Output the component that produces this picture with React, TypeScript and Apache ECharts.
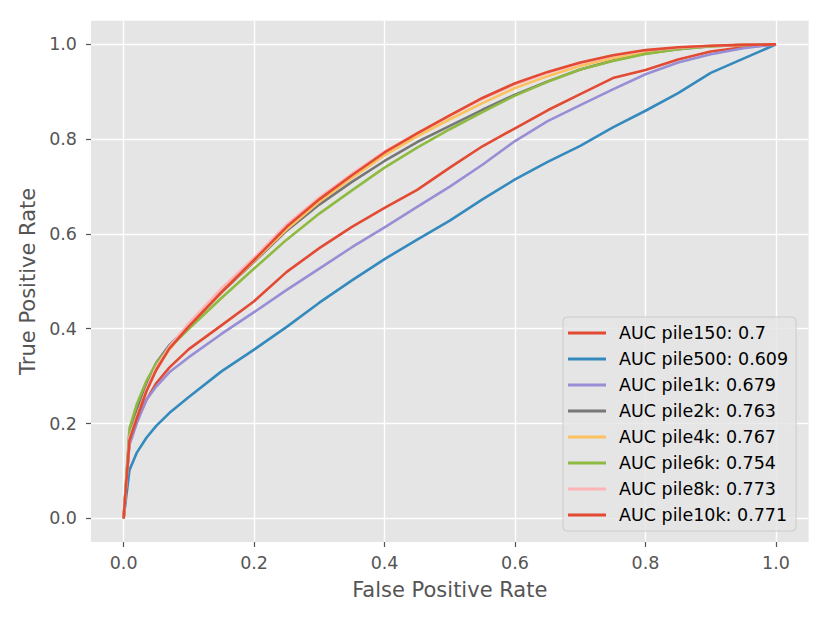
import React, { useEffect, useRef } from 'react';
import * as echarts from 'echarts';

const FPR = [0, 0.009, 0.02, 0.035, 0.05, 0.07, 0.1, 0.15, 0.2, 0.25, 0.3, 0.35, 0.4, 0.45, 0.5, 0.55, 0.6, 0.65, 0.7, 0.75, 0.8, 0.85, 0.9, 0.95, 1.0];

const PILE150 = [0, 0.165, 0.205, 0.25, 0.285, 0.318, 0.357, 0.407, 0.458, 0.52, 0.57, 0.615, 0.655, 0.693, 0.74, 0.785, 0.823, 0.861, 0.895, 0.929, 0.946, 0.968, 0.985, 0.994, 1];
const PILE500 = [0, 0.102, 0.138, 0.17, 0.195, 0.222, 0.256, 0.31, 0.356, 0.404, 0.455, 0.502, 0.547, 0.588, 0.628, 0.673, 0.715, 0.752, 0.786, 0.825, 0.86, 0.897, 0.94, 0.97, 1];
const PILE1K = [0, 0.155, 0.2, 0.25, 0.278, 0.308, 0.34, 0.389, 0.435, 0.482, 0.527, 0.572, 0.614, 0.657, 0.7, 0.746, 0.796, 0.838, 0.872, 0.905, 0.937, 0.962, 0.979, 0.992, 1];
const PILE2K = [0, 0.18, 0.228, 0.285, 0.328, 0.365, 0.407, 0.477, 0.541, 0.607, 0.662, 0.71, 0.754, 0.794, 0.828, 0.862, 0.894, 0.922, 0.947, 0.966, 0.981, 0.99, 0.996, 0.999, 1];
const PILE4K = [0, 0.17, 0.215, 0.27, 0.315, 0.356, 0.405, 0.478, 0.543, 0.61, 0.668, 0.718, 0.766, 0.806, 0.842, 0.876, 0.908, 0.933, 0.955, 0.971, 0.984, 0.992, 0.996, 0.999, 1];
const PILE6K = [0, 0.19, 0.24, 0.29, 0.327, 0.36, 0.4, 0.465, 0.527, 0.588, 0.643, 0.692, 0.74, 0.782, 0.821, 0.857, 0.892, 0.921, 0.947, 0.965, 0.98, 0.99, 0.996, 0.999, 1];
const PILE8K = [0, 0.17, 0.212, 0.272, 0.318, 0.362, 0.412, 0.485, 0.55, 0.62, 0.677, 0.727, 0.774, 0.813, 0.85, 0.885, 0.916, 0.94, 0.96, 0.976, 0.987, 0.993, 0.997, 0.999, 1];
const PILE10K = [0, 0.165, 0.21, 0.268, 0.313, 0.358, 0.405, 0.477, 0.545, 0.615, 0.673, 0.724, 0.772, 0.812, 0.85, 0.887, 0.918, 0.942, 0.962, 0.977, 0.988, 0.994, 0.997, 0.999, 1];

const SERIES_NAMES = [
  'AUC pile150: 0.7',
  'AUC pile500: 0.609',
  'AUC pile1k: 0.679',
  'AUC pile2k: 0.763',
  'AUC pile4k: 0.767',
  'AUC pile6k: 0.754',
  'AUC pile8k: 0.773',
  'AUC pile10k: 0.771',
];
const SERIES_VALUES = [PILE150, PILE500, PILE1K, PILE2K, PILE4K, PILE6K, PILE8K, PILE10K];
const COLORS = ['#E24A33', '#348ABD', '#988ED5', '#777777', '#FBC15E', '#8EBA42', '#FFB5B8', '#E24A33'];
const TICKS = [0, 0.2, 0.4, 0.6, 0.8, 1.0];

const FONT = 'DejaVu Sans';

export default function App() {
  const ref = useRef<HTMLDivElement>(null);
  useEffect(() => {
    const chart = echarts.init(ref.current!, null, { renderer: 'svg' });
    const axisCommon = {
      type: 'value',
      min: -0.05,
      max: 1.05,
      axisLine: { show: false, onZero: false },
      axisTick: { show: true, customValues: TICKS, length: 5, lineStyle: { color: '#555555', width: 1.2 } },
      axisLabel: {
        customValues: TICKS,
        formatter: (v: number) => v.toFixed(1),
        color: '#555555',
        fontSize: 17.5,
        fontFamily: FONT,
      },
      splitLine: { show: true, lineStyle: { color: '#ffffff', width: 1.4 } },
      nameLocation: 'middle',
      nameTextStyle: { fontSize: 21, color: '#555555', fontFamily: FONT },
    };
    chart.setOption({
      animation: false,
      backgroundColor: '#ffffff',
      grid: {
        left: 91,
        right: 21.4,
        top: 20.7,
        bottom: 80,
        show: true,
        backgroundColor: '#E5E5E5',
        borderWidth: 0,
      },
      xAxis: {
        ...axisCommon,
        name: 'False Positive Rate',
        nameGap: 37,
        axisLabel: { ...axisCommon.axisLabel, margin: 12 },
      },
      yAxis: {
        ...axisCommon,
        name: 'True Positive Rate',
        nameGap: 50,
        axisLabel: { ...axisCommon.axisLabel, margin: 14 },
      },
      legend: {
        orient: 'vertical',
        left: 563,
        top: 317,
        padding: [6, 8, 6, 5],
        itemGap: 6,
        itemWidth: 38,
        itemHeight: 3,
        icon: 'rect',
        backgroundColor: 'rgba(229,229,229,0.8)',
        borderColor: '#cccccc',
        borderWidth: 1,
        borderRadius: 4,
        data: SERIES_NAMES,
        textStyle: {
          fontSize: 17.5,
          lineHeight: 20,
          color: '#000000',
          fontFamily: FONT,
          padding: [0, 0, 0, 8],
        },
      },
      series: SERIES_VALUES.map((vals, i) => ({
        type: 'line',
        name: SERIES_NAMES[i],
        data: FPR.map((x, j) => [x, vals[j]]),
        showSymbol: false,
        smooth: false,
        color: COLORS[i],
        itemStyle: { color: COLORS[i] },
        lineStyle: { color: COLORS[i], width: 2.6, join: 'round' },
      })),
    });
    return () => chart.dispose();
  }, []);
  return (
    <div
      ref={ref}
      style={{ position: 'fixed', left: 0, top: 0, width: 830, height: 622, background: '#ffffff' }}
    />
  );
}
